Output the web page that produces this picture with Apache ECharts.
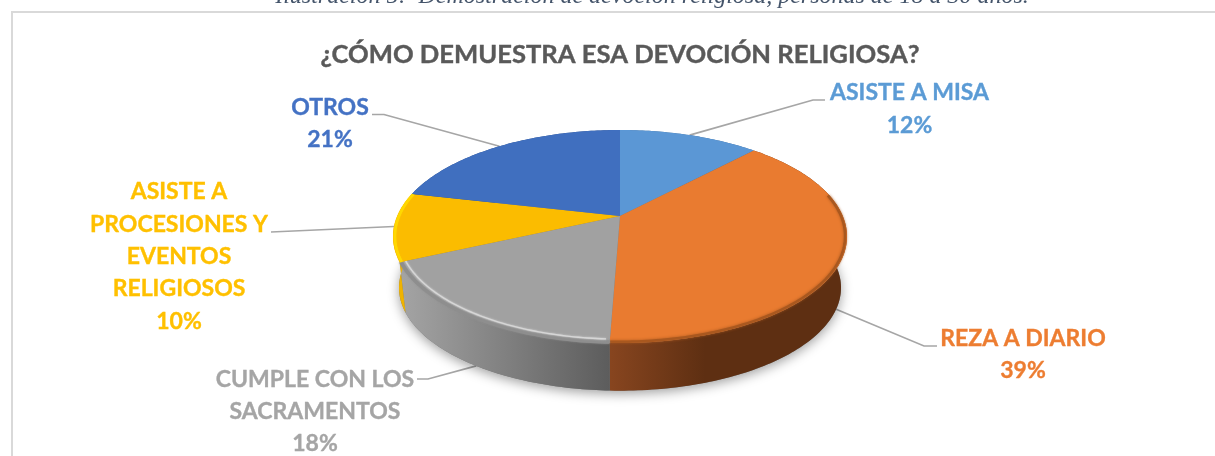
<!DOCTYPE html>
<html><head><meta charset="utf-8">
<style>html,body{margin:0;padding:0;background:#fff;overflow:hidden}#c{width:1215px;height:456px}</style>
<script src="https://cdn.jsdelivr.net/npm/echarts@6/dist/echarts.min.js"></script>
</head><body><div id="c"></div>
<script>
const categories = ['ASISTE A MISA','REZA A DIARIO','CUMPLE CON LOS\nSACRAMENTOS','ASISTE A\nPROCESIONES Y\nEVENTOS\nRELIGIOSOS','OTROS'];
const values = [12, 38.6, 17.6, 10.4, 21.4];
const colors = ['#5b97d5','#e97b30','#a1a1a1','#fbbc00','#406fbf'];
const labelColors = ['#5b9bd5','#ed7d31','#a5a5a5','#ffc000','#4472c4'];
const labelCenters = [[909.5,109],[1023,354.5],[315,411.5],[179,256.5],[330,123.5]];
const leaderKnees = [[[813,100],[825,100]],[[924,346],[937,346]],[[428,379],[417,379]],[[271,232],[271,232]],[[384,114.5],[372,114.5]]];
const TITLE = '¿CÓMO DEMUESTRA ESA DEVOCIÓN RELIGIOSA?';
const CAPTION = 'Ilustración 5:  Demostración de devoción religiosa, personas de 18 a 30 años.';

const TOP = {cx:620, cy:236.5, rx:227, ry:106.5};
const BOT = {cx:620, cy:287.7, rx:221, ry:103};
const PERSP = 0.1925;
const total = values.reduce((a,b)=>a+b,0);
let acc = 0;
const spans = values.map(v=>{const s=acc/total*360; acc+=v; return [s,acc/total*360];});
function proj(E,deg,r){
  const t=deg*Math.PI/180, X=r*Math.sin(t), Y=r*Math.cos(t), w=1+PERSP*Y;
  const A=E.rx*Math.sqrt(1-PERSP*PERSP);
  return [E.cx+A*X/w, E.cy-(E.ry*Y+E.ry*PERSP)/w];
}
function arc(E,a,b,r){const p=[];const n=Math.max(2,Math.ceil(Math.abs(b-a)));for(let i=0;i<=n;i++)p.push(proj(E,a+(b-a)*i/n,r));return p;}
const wallFill = [
  '#3f6d9c',
  {type:'linear',x:611,y:0,x2:705,y2:0,global:true,colorStops:[{offset:0,color:'#87451f'},{offset:1,color:'#5e2f12'}]},
  {type:'linear',x:404,y:0,x2:611,y2:0,global:true,colorStops:[{offset:0,color:'#a3a3a3'},{offset:1,color:'#5c5c5c'}]},
  '#efb300',
  '#2d4f8a'
];
const rims = [
  [],
  [{a:78,b:182.2,r:0.992,w:2.5,c:'#a9581f',blur:3}],
  [{a:182.2,b:245.5,r:0.995,w:3.5,c:'#8e8e8e',blur:2},{a:183,b:245.5,r:0.975,w:1.4,c:'#d6d6d6',blur:2}],
  [{a:245.5,b:283,r:0.992,w:2.5,c:'#ffd800',blur:1}],
  []
];
function wallsItem(params,api){
  const i=params.dataIndex, [a,b]=spans[i];
  const kids=[];
  if(i===0){
    kids.push({type:'polygon',shape:{points:arc(BOT,0,360,1)},style:{fill:'#777',shadowBlur:12,shadowColor:'rgba(0,0,0,0.38)',shadowOffsetY:3}});
  }
  const pts=arc(TOP,a,b,1).concat(arc(BOT,b,a,1));
  kids.push({type:'polygon',shape:{points:pts},style:{fill:wallFill[i]}});
  return {type:'group',children:kids};
}
function faceItem(params,api){
  const i=params.dataIndex, [a,b]=spans[i];
  const kids=[{type:'polygon',shape:{points:[proj(TOP,0,0)].concat(arc(TOP,a,b,1))},style:{fill:colors[i]}}];
  rims[i].forEach(s=>kids.push({type:'polyline',shape:{points:arc(TOP,s.a,s.b,s.r)},style:{fill:'none',stroke:s.c,lineWidth:s.w,shadowBlur:s.blur,shadowColor:s.c}}));
  return {type:'group',children:kids};
}
function leaderItem(params,api){
  const i=params.dataIndex, [a,b]=spans[i], mid=(a+b)/2;
  const front=Math.cos(mid*Math.PI/180)<-0.2;
  const start=proj(front?BOT:TOP,mid,1);
  return {type:'polyline',shape:{points:[start].concat(leaderKnees[i])},style:{fill:'none',stroke:'#a6a6a6',lineWidth:1.7}};
}
function labelItem(params,api){
  const i=params.dataIndex;
  return {type:'text',style:{text:categories[i]+'\n'+Math.round(api.value(0))+'%',x:labelCenters[i][0],y:labelCenters[i][1],align:'center',verticalAlign:'middle',fill:labelColors[i],font:'700 23px Lato',lineHeight:32.3,stroke:labelColors[i],lineWidth:0.35}};
}
function ser(fn,z){return {type:'custom',coordinateSystem:'none',renderItem:fn,data:values.map((v,i)=>({name:categories[i].replace(/\n/g,' '),value:[v]})),animation:false,silent:true,z:z};}
const chart=echarts.init(document.getElementById('c'),null,{renderer:'canvas'});
chart.setOption({
  animation:false,
  backgroundColor:'#fff',
  title:{text:TITLE,left:615,top:37,textAlign:'center',textStyle:{fontFamily:'Lato',fontWeight:700,fontSize:25.6,color:'#595959',textBorderColor:'#595959',textBorderWidth:0.4}},
  graphic:[
    {type:'text',z:1,style:{text:CAPTION,x:652,y:-3,align:'center',verticalAlign:'middle',fill:'#44546a',font:'italic 24px "Liberation Serif"'}},
    {type:'line',z:1,shape:{x1:12,y1:12,x2:1215,y2:12},style:{stroke:'#d9d9d9',lineWidth:2}},
    {type:'line',z:1,shape:{x1:12,y1:11,x2:12,y2:456},style:{stroke:'#d9d9d9',lineWidth:2}}
  ],
  series:[ser(leaderItem,2),ser(wallsItem,3),ser(faceItem,4),ser(labelItem,5)]
});
</script></body></html>
